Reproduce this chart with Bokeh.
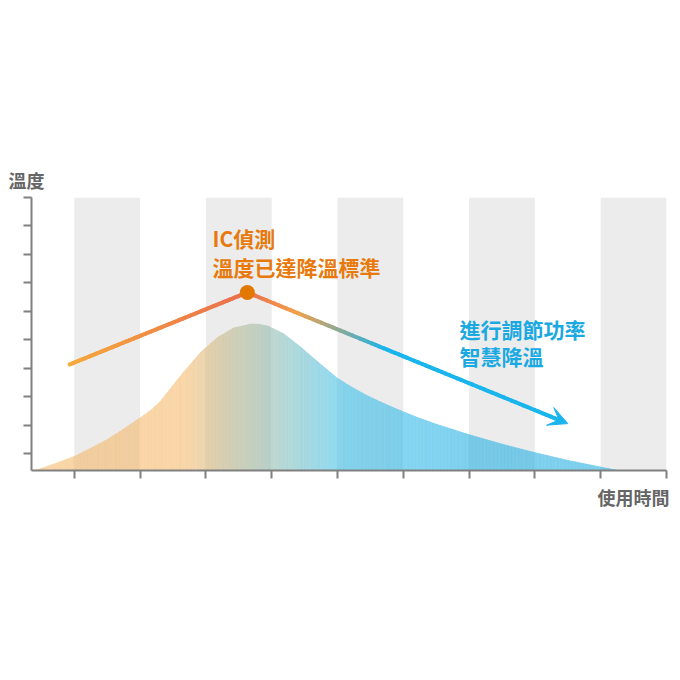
import numpy as np
from bokeh.plotting import figure
from bokeh.models import Range1d, FixedTicker, Label, Arrow, VeeHead, Title
from bokeh.embed import file_html
from bokeh.resources import INLINE

# ---------------- data ----------------
x_ticks = [1, 2, 3, 4, 5, 6, 7, 8, 9, 10]
y_ticks = [1, 2, 3, 4, 5, 6, 7, 8, 9, 10]
band_left = [1, 3, 5, 7, 9]
band_right = [2, 4, 6, 8, 10]

curve_time = [0.41, 0.72, 1.00, 1.24, 1.48, 1.70, 1.99, 2.16, 2.31, 2.49, 2.66, 2.92,
              3.18, 3.42, 3.56, 3.68, 3.80, 3.94, 4.18, 4.44, 4.70, 5.00, 5.23,
              5.46, 5.70, 5.96, 6.23, 6.51, 7.01, 7.51, 8.01, 8.51, 9.00, 9.26]
curve_temp = [0.40, 0.65, 0.89, 1.17, 1.46, 1.78, 2.23, 2.51, 2.83, 3.36, 3.85, 4.55,
              5.08, 5.41, 5.48, 5.55, 5.54, 5.48, 5.21, 4.74, 4.22, 3.64, 3.31,
              3.02, 2.76, 2.50, 2.25, 2.02, 1.65, 1.32, 1.02, 0.75, 0.52, 0.40]

trend_time = [0.93, 3.63, 8.50]
trend_temp = [4.13, 6.66, 2.05]
peak_time = 3.63
peak_temp = 6.66

label_y = "溫度"
label_x = "使用時間"
note_orange = ["IC偵測", "溫度已達降溫標準"]
note_blue = ["進行調節功率", "智慧降溫"]

# ---------------- styling ----------------
X0, X1, Y0, Y1 = 0.35, 10.0, 0.4, 10.0
BAND = (236, 236, 236)
FONT = "Noto Sans CJK TC"

area_stops_x = [2.69, 5.12, 7.0]
area_stops_c = [(249, 213, 166), (138, 217, 243), (124, 208, 238)]

line_stops_x = [0.93, 3.63, 4.40, 5.75, 8.5]
line_stops_c = [(246, 170, 60), (234, 110, 78), (243, 160, 72), (25, 181, 236), (25, 181, 236)]


def grad(x, sx, sc):
    return [np.interp(x, sx, [s[k] for s in sc]) for k in range(3)]


def hexc(c):
    return "#%02x%02x%02x" % tuple(int(round(max(0, min(255, v)))) for v in c)


p = figure(width=680, height=680, x_range=Range1d(X0, X1), y_range=Range1d(Y0, Y1),
           output_backend="svg", toolbar_location=None,
           min_border_left=31, min_border_right=14, min_border_top=197, min_border_bottom=210,
           background_fill_color="white", border_fill_color="white", outline_line_color=None)
p.grid.visible = False

for ax, ticks in ((p.xaxis, x_ticks), (p.yaxis, y_ticks)):
    ax.ticker = FixedTicker(ticks=ticks)
    ax.major_label_text_font_size = "1px"
    ax.major_label_text_color = None
    ax.major_label_standoff = 0
    ax.major_tick_in = 0
    ax.major_tick_out = 8
    ax.major_tick_line_width = 2
    ax.major_tick_line_color = "#808080"
    ax.minor_tick_line_color = None
    ax.axis_line_width = 2
    ax.axis_line_color = "#808080"

# axis captions as titles (outside the frame)
p.title.text = label_y
p.title.align = "left"
p.title.offset = -23
p.title.text_font = FONT
p.title.text_font_style = "bold"
p.title.text_font_size = "18px"
p.title.text_color = "#666666"
p.add_layout(Title(text=label_x, align="right", offset=-3, standoff=6, text_font=FONT,
                   text_font_style="bold", text_font_size="18px", text_color="#666666"),
             "below")

# gray bands
p.quad(left=band_left, right=band_right, bottom=Y0, top=Y1, fill_color=hexc(BAND), line_color=None)

# gradient area drawn as thin strips of the polygon through the curve points
edges = list(np.linspace(curve_time[0], curve_time[-1], 420)) + list(curve_time)
edges += [b for b in band_left + band_right if curve_time[0] < b < curve_time[-1]]
edges = np.unique(np.array(edges))
tops = np.interp(edges, curve_time, curve_temp)
sx, sy, sc = [], [], []
for i in range(len(edges) - 1):
    a, b = edges[i], edges[i + 1]
    m = 0.5 * (a + b)
    c = grad(m, area_stops_x, area_stops_c)
    if any(l <= m < r for l, r in zip(band_left, band_right)):
        c = [v - 0.4 * (255 - BAND[0]) for v in c]
    sx.append([a, b, b, a])
    sy.append([Y0, Y0, tops[i + 1], tops[i]])
    sc.append(hexc(c))
p.patches(xs=sx, ys=sy, fill_color=sc, line_color=sc, line_width=0.7)

# gradient trend line
x0s, y0s, x1s, y1s, lc = [], [], [], [], []
for k in range(len(trend_time) - 1):
    n = 80
    tt = np.linspace(0, 0.97 if k == len(trend_time) - 2 else 1.0, n + 1)
    xs = trend_time[k] + (trend_time[k + 1] - trend_time[k]) * tt
    ys = trend_temp[k] + (trend_temp[k + 1] - trend_temp[k]) * tt
    for j in range(n):
        x0s.append(xs[j]); y0s.append(ys[j]); x1s.append(xs[j + 1]); y1s.append(ys[j + 1])
        lc.append(hexc(grad(0.5 * (xs[j] + xs[j + 1]), line_stops_x, line_stops_c)))
p.segment(x0=x0s, y0=y0s, x1=x1s, y1=y1s, line_color=lc, line_width=4, line_cap="round")

blue = "#19b5ec"
p.add_layout(Arrow(end=VeeHead(size=19, fill_color=blue, line_color=blue, line_width=1),
                   x_start=trend_time[1], y_start=trend_temp[1],
                   x_end=trend_time[2], y_end=trend_temp[2], line_color=None))

p.scatter(x=[peak_time], y=[peak_temp], size=15, fill_color="#e37800", line_color=None)

# notes
orange_t = "#e8790c"
blue_t = "#1aa9e1"
for txt, yy in zip(note_orange, [8.59, 7.57]):
    p.add_layout(Label(x=3.10, y=yy, text=txt, text_font=FONT, text_font_style="bold",
                       text_font_size="21px", text_color=orange_t, text_baseline="middle",
                       text_align="left"))
for txt, yy in zip(note_blue, [5.39, 4.41]):
    p.add_layout(Label(x=6.855, y=yy, text=txt, text_font=FONT, text_font_style="bold",
                       text_font_size="21px", text_color=blue_t, text_baseline="middle",
                       text_align="left"))

open("out.html", "w").write(file_html(p, INLINE))
